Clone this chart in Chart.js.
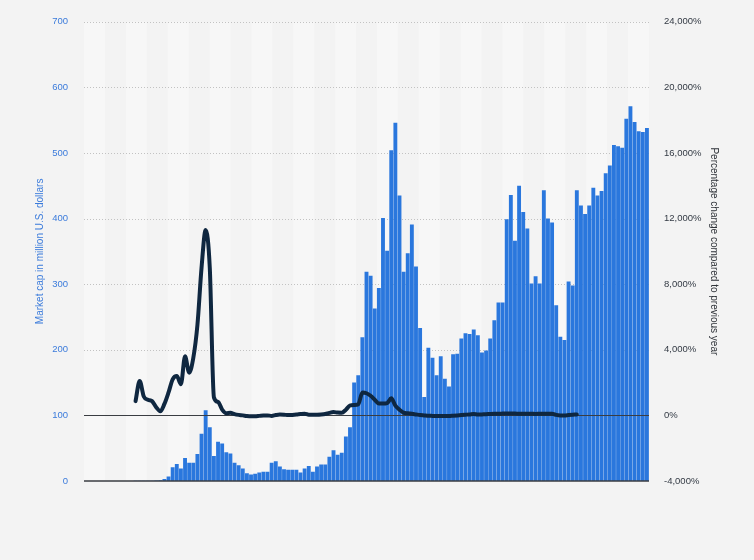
<!DOCTYPE html>
<html>
<head>
<meta charset="utf-8">
<title>Market cap and percentage change</title>
<script src="https://cdn.jsdelivr.net/npm/chart.js@4.4.1/dist/chart.umd.min.js"></script>
<style>
  html, body { margin: 0; padding: 0; background: #f3f3f3; }
  #chart { display: block; }
</style>
</head>
<body>
<canvas id="chart" width="754" height="560"></canvas>
<script>
// ---- data ----
const periods = Array.from({ length: 137 }, (_, i) => 'P' + (i + 1));

// market cap, million U.S. dollars
const marketCap = [
  0, 0, 0, 0, 0, 0, 0, 0, 0, 0, 0, 0,
  0.2, 0.3, 0.3, 0.4, 0.5, 0.7, 1,
  3, 7, 21, 26, 19, 35, 28, 28, 41, 72, 108, 82, 38, 60, 57, 44, 42, 28, 24, 19, 12, 10, 11, 13, 14, 14,
  28, 30, 22, 18, 17, 17, 17, 13,
  19, 23, 14, 22, 25, 25, 37, 47, 40, 43, 68, 82, 150, 161, 219, 319, 313, 263, 294, 401, 351, 504, 546, 435, 319, 347, 391, 327,
  233, 128, 203, 188, 161, 190, 156, 144, 193, 194, 217, 225, 224, 231, 222, 196, 199, 217, 245, 272, 272, 399, 436, 366, 450, 410, 385, 301,
  312, 301, 443, 400, 394, 268, 220, 215, 304, 298, 443, 420, 407, 420, 447, 435, 442, 469, 481, 512, 510, 508, 552, 571, 547, 533, 532, 538
];

// percentage change compared to previous year
const pctChange = [
  null, null, null, null, null, null, null, null, null, null, null, null,
  870, 2100, 1150, 950, 870, 500, 250, 700, 1400, 2200, 2400, 1900, 3600, 2600, 3500, 5500, 9000, 11300, 9000, 1100,
  820, 350, 130, 160, 80, 30, 0, -40, -60, -50, -30, -10, 0, -30, 20, 50, 40, 20, 30, 50, 80, 100,
  40, 40, 40, 50, 80, 150, 200, 170, 160, 350, 600, 640, 670, 1400, 1350, 1200, 950, 720, 720, 750, 1050, 600,
  350, 160, 130, 100, 60, 20, 0, -20, -30, -40, -40, -40, -40, -20, 0, 20, 40, 60, 90, 50, 60, 70, 90, 100,
  100, 110, 120, 110, 110, 100, 100, 100, 100, 90, 100, 100, 100, 100, 30, 0, 0, 20, 40, 60,
  null, null, null, null, null, null, null, null, null, null, null, null, null, null, null, null, null
];

const leftTicks = [0, 100, 200, 300, 400, 500, 600, 700];
const rightTicks = [-4000, 0, 4000, 8000, 12000, 16000, 20000, 24000];

const BANDS = 27;

// background columns, dotted grid and the two solid reference lines
const backdrop = {
  id: 'backdrop',
  beforeDraw(chart) {
    const { ctx, chartArea: a } = chart;
    const y = chart.scales.y;
    ctx.save();
    ctx.fillStyle = '#f3f3f3';
    ctx.fillRect(0, 0, chart.width, chart.height);
    const w = (a.right - a.left) / BANDS;
    ctx.fillStyle = '#f7f7f7';
    for (let k = 0; k < BANDS; k += 2) {
      ctx.fillRect(a.left + k * w, a.top, w, a.bottom - a.top);
    }
    ctx.strokeStyle = '#c2c2c2';
    ctx.lineWidth = 1;
    ctx.setLineDash([1, 2]);
    leftTicks.filter(v => v >= 200).forEach(v => {
      const py = Math.round(y.getPixelForValue(v)) + 0.5;
      ctx.beginPath();
      ctx.moveTo(a.left, py);
      ctx.lineTo(a.right, py);
      ctx.stroke();
    });
    ctx.restore();
  },
  afterDatasetDraw(chart, args) {
    if (args.meta.type !== 'bar') return;
    const { ctx, chartArea: a } = chart;
    ctx.save();
    ctx.strokeStyle = '#3a3d42';
    ctx.lineWidth = 1;
    const zeroPct = Math.round(chart.scales.y1.getPixelForValue(0)) + 0.5;
    ctx.beginPath();
    ctx.moveTo(a.left, zeroPct);
    ctx.lineTo(a.right, zeroPct);
    ctx.stroke();
    const base = Math.round(chart.scales.y.getPixelForValue(0));
    ctx.lineWidth = 1.5;
    ctx.beginPath();
    ctx.moveTo(a.left, base);
    ctx.lineTo(a.right, base);
    ctx.stroke();
    ctx.restore();
  }
};

const blue = '#2a77dd';
const navy = '#0f2740';
const tickFont = { family: '"Liberation Sans", Arial, sans-serif', size: 9.5 };
const titleFont = { family: '"Liberation Sans", Arial, sans-serif', size: 10 };

new Chart(document.getElementById('chart'), {
  type: 'bar',
  data: {
    labels: periods,
    datasets: [
      {
        type: 'line',
        label: 'Percentage change compared to previous year',
        data: pctChange,
        yAxisID: 'y1',
        borderColor: navy,
        borderWidth: 4,
        pointRadius: 0,
        cubicInterpolationMode: 'monotone',
        borderCapStyle: 'round',
        borderJoinStyle: 'round',
        fill: false,
        order: 1
      },
      {
        label: 'Market cap in million U.S. dollars',
        data: marketCap,
        yAxisID: 'y',
        backgroundColor: blue,
        borderWidth: 0,
        barPercentage: 0.94,
        categoryPercentage: 1.0,
        order: 2
      }
    ]
  },
  options: {
    responsive: false,
    animation: false,
    devicePixelRatio: 1,
    layout: { padding: { top: 19, bottom: 79, left: 0, right: 0 } },
    plugins: {
      legend: { display: false },
      tooltip: { enabled: false }
    },
    scales: {
      x: { display: false },
      y: {
        position: 'left',
        min: 0,
        max: 700,
        afterBuildTicks: s => { s.ticks = leftTicks.map(v => ({ value: v })); },
        afterFit: s => { s.width = 84; },
        grid: { display: false, drawTicks: false },
        border: { display: false },
        ticks: { color: '#3b7bdb', font: tickFont, padding: 16 },
        title: {
          display: true,
          text: 'Market cap in million U.S. dollars',
          color: '#3b7bdb',
          font: titleFont,
          padding: { top: 34, bottom: 0 }
        }
      },
      y1: {
        position: 'right',
        min: -4000,
        max: 24000,
        afterBuildTicks: s => { s.ticks = rightTicks.map(v => ({ value: v })); },
        afterFit: s => { s.width = 105; },
        grid: { display: false, drawTicks: false },
        border: { display: false },
        ticks: {
          color: '#333a44',
          font: tickFont,
          padding: 15,
          callback: v => v.toLocaleString('en-US') + '%'
        },
        title: {
          display: true,
          text: 'Percentage change compared to previous year',
          color: '#2e3238',
          font: titleFont,
          padding: { top: 34, bottom: 0 }
        }
      }
    }
  },
  plugins: [backdrop]
});
</script>
</body>
</html>
